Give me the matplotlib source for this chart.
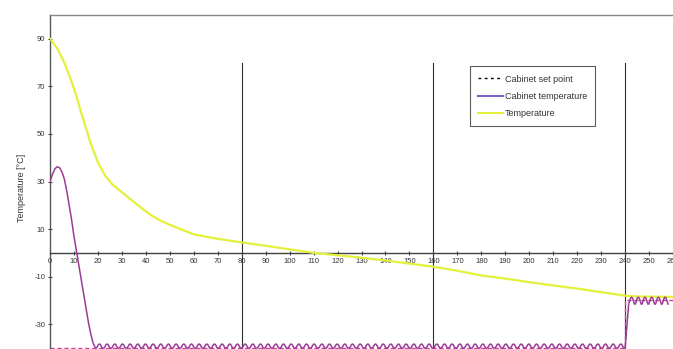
import numpy as np
import matplotlib
matplotlib.use("Agg")
import matplotlib.pyplot as plt
from matplotlib.lines import Line2D

plt.rcParams["font.family"] = ["Liberation Sans", "DejaVu Sans"]
plt.rcParams["axes.unicode_minus"] = False

# Product temperature
temp_t = [0, 3, 6, 9, 11, 13, 15, 17, 20, 23, 26, 30, 34, 38, 42, 46, 50, 55,
          60, 70, 80, 90, 100, 110, 120, 130, 140, 150, 160, 170, 180, 190,
          200, 210, 220, 230, 240, 245, 250, 260]
temp_v = [90, 86, 80, 72, 66, 59, 52.5, 46, 38, 32.5, 28.8, 25.5, 22.2, 19, 16,
          13.6, 11.8, 9.8, 7.8, 5.9, 4.4, 3, 1.5, 0, -1, -2, -3.2, -4.5, -5.8,
          -7.5, -9.5, -10.8, -12.3, -13.7, -15, -16.5, -18, -18.3, -18.4, -18.5]

# Cabinet temperature: pull-down before the controller starts cycling
cab_start_t = [0, 1, 2, 3, 4, 5, 6, 7, 8, 9, 10, 11, 12, 13, 14, 15, 16, 17, 18, 19]
cab_start_v = [30, 33, 35.3, 36.2, 35.8, 34, 31, 26, 20, 14, 7, 1, -5, -11, -17,
               -23, -29, -34, -38, -40]
# one on/off cycle of the controller (samples 0.4 apart), low and high set point
cycle_step = 0.4
cycle_low = [-40.0, -39.3, -38.6, -38.3, -38.5, -39.2, -40.0, -40.0]
cycle_high = [-21.5, -20.2, -19.0, -18.6, -19.0, -20.3, -21.5]
switch_t = 240

# Cabinet set point
setp_t = [0, 240, 240, 260]
setp_v = [-40, -40, -20, -20]

vline_x = [80, 160, 240]

# build cabinet series from the pieces above
n_low = int((switch_t - cab_start_t[-1]) / (cycle_step * len(cycle_low)))
low_v = np.tile(cycle_low, n_low)
low_t = cab_start_t[-1] + cycle_step * np.arange(1, len(low_v) + 1)
n_high = 6
high_v = np.tile(cycle_high, n_high)
high_t = switch_t + 1.5 + cycle_step * np.arange(len(high_v))
cab_t = np.concatenate([cab_start_t, low_t, [switch_t], high_t])
cab_v = np.concatenate([cab_start_v, low_v, [-40], high_v])

fig = plt.figure(figsize=(6.73, 3.49), dpi=100)
ax = fig.add_axes([50 / 673, 0, 623 / 673, 334 / 349])

purple = "#9a3c96"
yellow = "#e4f03a"

ax.plot(setp_t, setp_v, ls=(0, (3, 2)), color="#d2409a", lw=1.0, zorder=2)
ax.plot(temp_t, temp_v, color=yellow, lw=1.6, zorder=3)
ax.plot(cab_t, cab_v, color=purple, lw=1.1, zorder=4)
for xv in vline_x:
    ax.plot([xv, xv], [-60, 80], color="#303030", lw=0.8, zorder=1)

ax.set_xlim(0, 259.2)
ax.set_ylim(-40.4, 100)

ax.spines["bottom"].set_position(("data", 0))
ax.spines["bottom"].set_color("#404040")
ax.spines["left"].set_color("#555555")
ax.spines["top"].set_color("#888888")
ax.spines["right"].set_visible(False)
for s in ax.spines.values():
    s.set_linewidth(1.0)

ax.set_xticks(np.arange(0, 261, 10))
ax.set_yticks([-30, -10, 10, 30, 50, 70, 90])
ax.tick_params(axis="both", labelsize=5.5, length=3, width=0.8, direction="inout",
               color="#404040", labelcolor="#333333", pad=2)

fig.text(22 / 673, 1 - 188 / 349, "Temperature [°C]", rotation=90, fontsize=6.5,
         color="#333333", ha="center", va="center")

handles = [
    Line2D([], [], color="black", ls=(0, (2, 2.5)), lw=1.0),
    Line2D([], [], color="#7f5fc8", lw=1.5),
    Line2D([], [], color=yellow, lw=1.5),
]
labels = ["Cabinet set point", "Cabinet temperature", "Temperature"]
leg = ax.legend(handles, labels, loc="upper left", bbox_to_anchor=(0.674, 0.846),
                fontsize=6.5, frameon=True, fancybox=False, edgecolor="#333333",
                handlelength=2.8, handletextpad=0.15, labelspacing=0.9,
                borderpad=0.9, borderaxespad=0)
leg.get_frame().set_linewidth(0.8)
for t in leg.get_texts():
    t.set_color("#333333")

fig.savefig("out.png", dpi=100)
